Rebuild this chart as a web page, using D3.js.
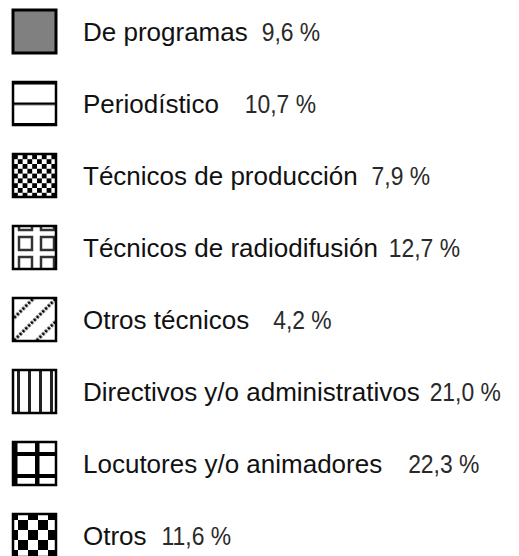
<!DOCTYPE html>
<html>
<head>
<meta charset="utf-8">
<script src="https://cdn.jsdelivr.net/npm/d3@7"></script>
<style>
  body { margin: 0; background: #fff; }
  .label { font-family: "Liberation Sans", Arial, sans-serif; font-size: 26px; fill: #111; }
  .pct { font-family: "Liberation Sans", Arial, sans-serif; font-size: 26px; fill: #2a2a2a; }
</style>
</head>
<body>
<div id="chart"></div>
<script>
// legend data
var categories = ["De programas", "Periodístico", "Técnicos de producción", "Técnicos de radiodifusión",
    "Otros técnicos", "Directivos y/o administrativos", "Locutores y/o animadores", "Otros"];
var shares = [9.6, 10.7, 7.9, 12.7, 4.2, 21.0, 22.3, 11.6];
var patternIds = ["solid", "hsplit", "fineCheck", "boxes", "diagDots", "vstripes", "plaid", "bigCheck"];
// space between label and value, per row (layout only)
var gaps = [14, 26, 14, 11, 24, 10, 26, 15];

var width = 519, height = 556;
var margin = {top: 10, left: 13};
var box = 43;
var labelX = 83;
var narrow = 0.88; // horizontal squeeze for the value text

var svg = d3.select("#chart").append("svg")
    .attr("width", width)
    .attr("height", height);

var defs = svg.append("defs");

// fine checkerboard
var p = defs.append("pattern").attr("id", "fineCheck").attr("patternUnits", "userSpaceOnUse")
    .attr("x", 13).attr("y", 154).attr("width", 9.6).attr("height", 9.6);
p.append("rect").attr("width", 9.6).attr("height", 9.6).attr("fill", "#fff");
p.append("rect").attr("width", 4.8).attr("height", 4.8).attr("fill", "#000");
p.append("rect").attr("x", 4.8).attr("y", 4.8).attr("width", 4.8).attr("height", 4.8).attr("fill", "#000");

// big checkerboard
p = defs.append("pattern").attr("id", "bigCheck").attr("patternUnits", "userSpaceOnUse")
    .attr("x", 8).attr("y", 516).attr("width", 20).attr("height", 20);
p.append("rect").attr("width", 20).attr("height", 20).attr("fill", "#fff");
p.append("rect").attr("width", 10).attr("height", 10).attr("fill", "#000");
p.append("rect").attr("x", 10).attr("y", 10).attr("width", 10).attr("height", 10).attr("fill", "#000");

// boxes
p = defs.append("pattern").attr("id", "boxes").attr("patternUnits", "userSpaceOnUse")
    .attr("x", 15).attr("y", 227).attr("width", 22).attr("height", 20);
p.append("rect").attr("width", 22).attr("height", 20).attr("fill", "#fff");
p.append("rect").attr("x", 4).attr("y", 4).attr("width", 13).attr("height", 13)
    .attr("fill", "#fff").attr("stroke", "#333").attr("stroke-width", 2.5);

// diagonal dotted lines
p = defs.append("pattern").attr("id", "diagDots").attr("patternUnits", "userSpaceOnUse")
    .attr("width", 16).attr("height", 16).attr("patternTransform", "rotate(-45)");
p.append("rect").attr("width", 16).attr("height", 16).attr("fill", "#fff");
p.append("line").attr("x1", 0).attr("x2", 16).attr("y1", 8).attr("y2", 8)
    .attr("stroke", "#000").attr("stroke-width", 3).attr("stroke-dasharray", "2.5,1.5");

// vertical stripes
p = defs.append("pattern").attr("id", "vstripes").attr("patternUnits", "userSpaceOnUse")
    .attr("x", 17).attr("width", 11).attr("height", 10);
p.append("rect").attr("width", 11).attr("height", 10).attr("fill", "#fff");
p.append("rect").attr("x", 0).attr("width", 3).attr("height", 10).attr("fill", "#222");

// plaid
p = defs.append("pattern").attr("id", "plaid").attr("patternUnits", "userSpaceOnUse")
    .attr("x", 13).attr("y", 450).attr("width", 22).attr("height", 22);
p.append("rect").attr("width", 22).attr("height", 22).attr("fill", "#fff");
p.append("rect").attr("x", 0).attr("width", 4.5).attr("height", 22).attr("fill", "#000");
p.append("rect").attr("y", 0).attr("width", 22).attr("height", 4).attr("fill", "#000");

// half split
p = defs.append("pattern").attr("id", "hsplit").attr("patternUnits", "userSpaceOnUse")
    .attr("y", 82).attr("width", 10).attr("height", 20.5);
p.append("rect").attr("width", 10).attr("height", 20.5).attr("fill", "#fff");
p.append("rect").attr("y", 0).attr("width", 10).attr("height", 2.5).attr("fill", "#000");

var y = d3.scaleBand()
    .domain(categories)
    .range([margin.top, margin.top + 72 * categories.length])
    .paddingInner(0);

var rows = svg.selectAll("g.row")
    .data(categories)
    .enter()
    .append("g")
    .attr("class", "row")
    .attr("transform", function(d) { return "translate(0," + y(d) + ")"; });

rows.append("rect")
    .attr("x", margin.left)
    .attr("width", box)
    .attr("height", box)
    .attr("fill", function(d, i) { return i === 0 ? "#808080" : "url(#" + patternIds[i] + ")"; })
    .attr("stroke", "#000")
    .attr("stroke-width", function(d, i) { return i === 0 ? 3 : 2.5; });

var labels = rows.append("text")
    .attr("class", "label")
    .attr("x", labelX)
    .attr("y", 31)
    .text(function(d) { return d; });

var fmt = function(v) { return d3.format(".1f")(v).replace(".", ",") + " %"; };

rows.append("text")
    .attr("class", "pct")
    .attr("transform", "scale(" + narrow + ",1)")
    .attr("x", function(d, i) { return (labelX + labels.nodes()[i].getComputedTextLength() + gaps[i]) / narrow; })
    .attr("y", 31)
    .text(function(d, i) { return fmt(shares[i]); });
</script>
</body>
</html>
